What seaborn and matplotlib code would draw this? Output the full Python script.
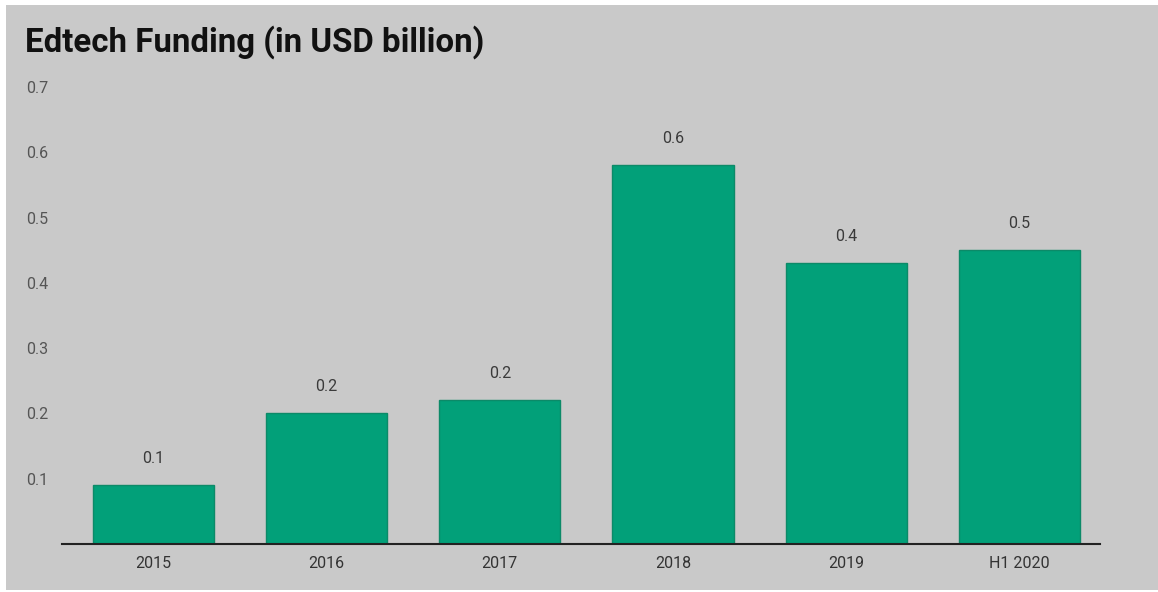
import matplotlib
matplotlib.use("Agg")
import matplotlib.pyplot as plt
from matplotlib.patches import Rectangle
import seaborn as sns
import pandas as pd

# Funding by period, USD billion
periods = ["2015", "2016", "2017", "2018", "2019", "H1 2020"]
funding = [0.09, 0.20, 0.22, 0.58, 0.43, 0.45]
y_ticks = [0.1, 0.2, 0.3, 0.4, 0.5, 0.6, 0.7]

df = pd.DataFrame({"period": periods, "funding": funding})

sns.set_theme(style="white")
plt.rcParams["font.family"] = ["Roboto", "DejaVu Sans"]

W, H = 1158, 592
fig = plt.figure(figsize=(W / 100, H / 100), dpi=100, facecolor="white")

panel_color = "#c9c9c9"
fig.patches.append(Rectangle((6 / W, 2 / H), 1 - 6 / W, 1 - 7 / H,
                             transform=fig.transFigure, facecolor=panel_color,
                             edgecolor="none", zorder=-10))

ax = fig.add_axes([62 / W, (H - 544) / H, (1100 - 62) / W, (544 - 87) / H])
ax.set_facecolor("none")
ax.set_zorder(1)

sns.barplot(data=df, x="period", y="funding", color="#02a079", width=0.7,
            edgecolor="#0c8a68", linewidth=1.0, saturation=1, ax=ax)

ax.bar_label(ax.containers[0], fmt="{:.1f}", padding=14,
             fontsize=11.5, color="#3a3a3a")

ax.set_ylim(0, 0.7)
ax.set_xlim(-0.528, 5.465)
ax.set_yticks(y_ticks)
ax.set_yticklabels([f"{v:.1f}" for v in y_ticks])
ax.tick_params(axis="y", length=0, pad=10, labelsize=11.5, labelcolor="#555555")
ax.tick_params(axis="x", length=0, pad=9, labelsize=11.5, labelcolor="#333333")
ax.set_xlabel("")
ax.set_ylabel("")

for side in ["top", "right", "left"]:
    ax.spines[side].set_visible(False)
ax.spines["bottom"].set_color("#222222")
ax.spines["bottom"].set_linewidth(1.5)

fig.text(25 / W, 1 - 42 / H, "Edtech Funding (in USD billion)",
         fontsize=23.8, fontweight="bold", color="#111111", va="center", ha="left",
         zorder=2)

fig.savefig("out.png", dpi=100, facecolor=fig.get_facecolor())
